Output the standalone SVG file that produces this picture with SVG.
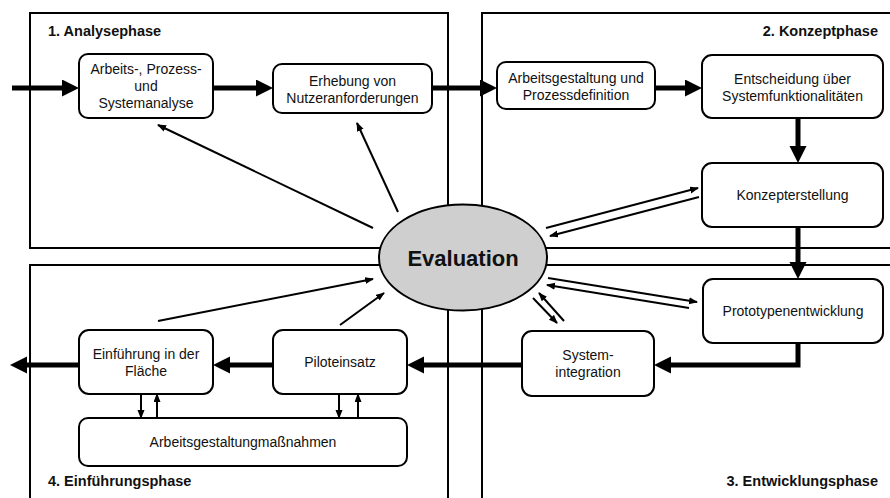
<svg xmlns="http://www.w3.org/2000/svg" width="890" height="498" viewBox="0 0 890 498">
<style>
.phase{fill:none;stroke:#000;stroke-width:2}
.node{fill:#fff;stroke:#000;stroke-width:2}
.t{font-family:"Liberation Sans",Arial,sans-serif;font-size:14px;fill:#111;text-anchor:middle}
.ph{font-family:"Liberation Sans",Arial,sans-serif;font-size:14.5px;font-weight:bold;fill:#111}
.thick{fill:none;stroke:#000;stroke-width:5;stroke-linejoin:miter}
.thin{fill:none;stroke:#000;stroke-width:2}
</style>
<defs>
<marker id="ah" markerUnits="userSpaceOnUse" markerWidth="18" markerHeight="18" refX="7" refY="8.5" orient="auto">
<path d="M0,0 L17,8.5 L0,17 z" fill="#000"/>
</marker>
<marker id="as" markerUnits="userSpaceOnUse" markerWidth="10" markerHeight="8" refX="8" refY="3.5" orient="auto">
<path d="M0,0 L9,3.5 L0,7 z" fill="#000"/>
</marker>
</defs>
<g id="phases">
<rect class="phase" x="30" y="13" width="418" height="235"/>
<rect class="phase" x="482" y="13" width="420" height="235"/>
<rect class="phase" x="482" y="265" width="420" height="245"/>
<rect class="phase" x="30" y="265" width="418" height="245"/>
<text class="ph" x="48" y="36">1. Analysephase</text>
<text class="ph" x="878" y="36" text-anchor="end">2. Konzeptphase</text>
<text class="ph" x="878" y="486" text-anchor="end">3. Entwicklungsphase</text>
<text class="ph" x="48" y="486">4. Einführungsphase</text>
</g>
<g id="connectors">
<path class="thick" d="M12,88 L69,88" marker-end="url(#ah)"/>
<path class="thick" d="M213,88 L263,88" marker-end="url(#ah)"/>
<path class="thick" d="M432,88 L487,88" marker-end="url(#ah)"/>
<path class="thick" d="M655,88 L692,88" marker-end="url(#ah)"/>
<path class="thick" d="M798,118 L798,153" marker-end="url(#ah)"/>
<path class="thick" d="M798,227 L798,269" marker-end="url(#ah)"/>
<path class="thick" d="M798,343 L798,365 L664,365" marker-end="url(#ah)"/>
<path class="thick" d="M522,365 L417,365" marker-end="url(#ah)"/>
<path class="thick" d="M273,365 L223,365" marker-end="url(#ah)"/>
<path class="thick" d="M79,365 L20,365" marker-end="url(#ah)"/>
<path class="thin" d="M373,228 L158,125" marker-end="url(#as)"/>
<path class="thin" d="M398,212 L357,123" marker-end="url(#as)"/>
<path class="thin" d="M546,228 L698,188" marker-end="url(#as)"/>
<path class="thin" d="M699,197 L550,236" marker-end="url(#as)"/>
<path class="thin" d="M548,278 L697,302" marker-end="url(#as)"/>
<path class="thin" d="M689,308 L547,285" marker-end="url(#as)"/>
<path class="thin" d="M533,298 L557,323" marker-end="url(#as)"/>
<path class="thin" d="M564,321 L539,293" marker-end="url(#as)"/>
<path class="thin" d="M158,321 L373,279" marker-end="url(#as)"/>
<path class="thin" d="M340,325 L384,293" marker-end="url(#as)"/>
<path class="thin" d="M141,394 L141,418" marker-end="url(#as)"/>
<path class="thin" d="M157,418 L157,394" marker-end="url(#as)"/>
<path class="thin" d="M339,394 L339,418" marker-end="url(#as)"/>
<path class="thin" d="M358,418 L358,394" marker-end="url(#as)"/>
</g>
<g id="evaluation">
<ellipse cx="463" cy="257.5" rx="84" ry="53" fill="#cfcfcf" stroke="#000" stroke-width="2"/>
<text x="463" y="265.5" font-family="Liberation Sans, Arial, sans-serif" font-size="22" font-weight="bold" text-anchor="middle" fill="#111">Evaluation</text>
</g>
<g id="n-analyse">
<rect class="node" x="79" y="54" width="134" height="64" rx="9"/>
<text class="t" x="146" y="74">Arbeits-, Prozess-</text>
<text class="t" x="146" y="91">und</text>
<text class="t" x="146" y="108">Systemanalyse</text>
</g>
<g id="n-erhebung">
<rect class="node" x="273" y="64" width="159" height="49" rx="9"/>
<text class="t" x="352.5" y="85.5">Erhebung von</text>
<text class="t" x="352.5" y="102.5">Nutzeranforderungen</text>
</g>
<g id="n-arbeitsgestaltung">
<rect class="node" x="497" y="62" width="158" height="47" rx="9"/>
<text class="t" x="576" y="82.5">Arbeitsgestaltung und</text>
<text class="t" x="576" y="99.5">Prozessdefinition</text>
</g>
<g id="n-entscheidung">
<rect class="node" x="702" y="55" width="181" height="63" rx="10"/>
<text class="t" x="792.5" y="83.5">Entscheidung über</text>
<text class="t" x="792.5" y="100.5">Systemfunktionalitäten</text>
</g>
<g id="n-konzept">
<rect class="node" x="702" y="163" width="181" height="64" rx="10"/>
<text class="t" x="792.5" y="200">Konzepterstellung</text>
</g>
<g id="n-prototyp">
<rect class="node" x="703" y="279" width="180" height="64" rx="10"/>
<text class="t" x="793" y="316">Prototypenentwicklung</text>
</g>
<g id="n-systemintegration">
<rect class="node" x="522" y="331" width="132" height="65" rx="10"/>
<text class="t" x="588" y="359.5">System-</text>
<text class="t" x="588" y="376.5">integration</text>
</g>
<g id="n-pilot">
<rect class="node" x="273" y="330" width="134" height="64" rx="10"/>
<text class="t" x="340" y="367">Piloteinsatz</text>
</g>
<g id="n-einfuehrung">
<rect class="node" x="79" y="330" width="134" height="64" rx="10"/>
<text class="t" x="146" y="358.5">Einführung in der</text>
<text class="t" x="146" y="375.5">Fläche</text>
</g>
<g id="n-massnahmen">
<rect class="node" x="79" y="418" width="328" height="48" rx="9"/>
<text class="t" x="243" y="447">Arbeitsgestaltungmaßnahmen</text>
</g>
</svg>
